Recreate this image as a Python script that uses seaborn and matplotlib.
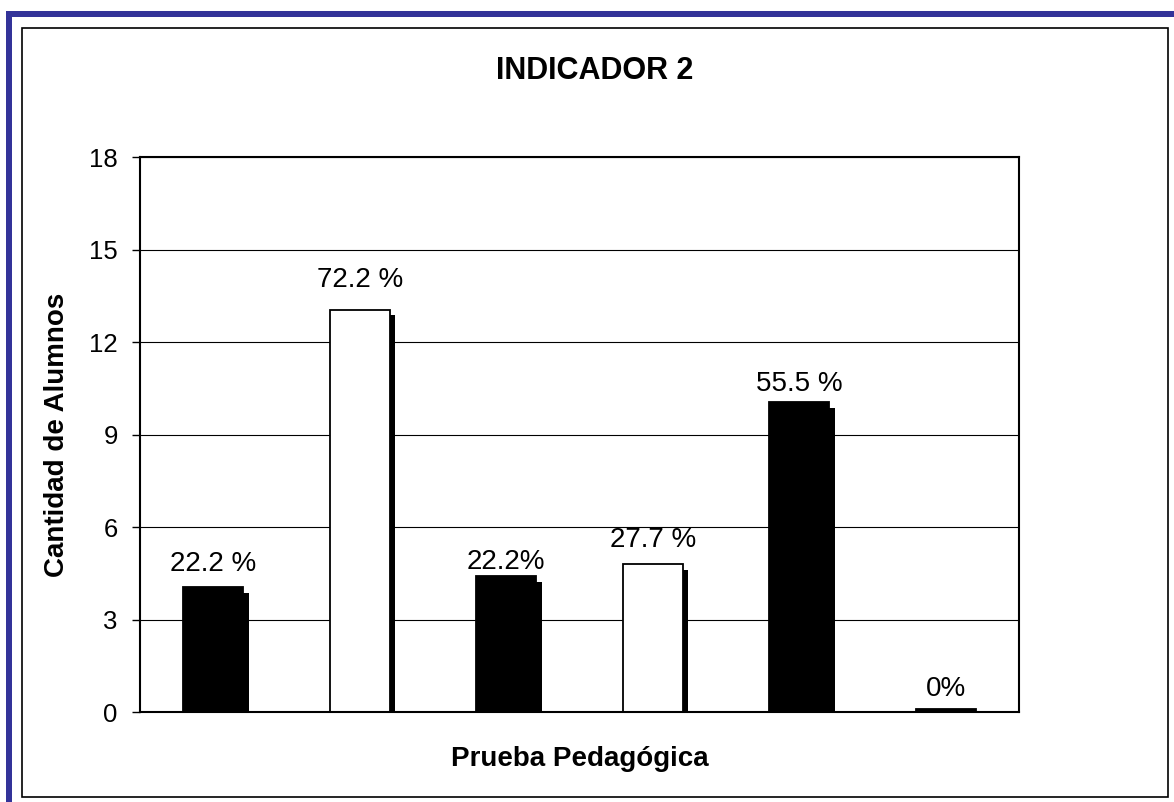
import matplotlib
matplotlib.use('Agg')
import matplotlib.pyplot as plt
import matplotlib.patheffects as pe
from matplotlib.patches import Rectangle
import seaborn as sns

# data
categories = ['1', '2', '3', '4', '5', '6']
alumnos = [4.05, 13.05, 4.4, 4.8, 10.05, 0.1]
pct_labels = ['22.2 %', '72.2 %', '22.2%', '27.7 %', '55.5 %', '0%']
bar_colors = ['black', 'white', 'black', 'white', 'black', 'black']
y_ticks = [0, 3, 6, 9, 12, 15, 18]

# label lift above each bar (points), matched to the picture
label_lift = [11.5, 16, 5, 12, 8, 9.5]

sns.set_theme(style='white')
plt.rcParams['font.family'] = ['Liberation Sans', 'DejaVu Sans']

fig = plt.figure(figsize=(11.74, 8.02), dpi=100)
ax = fig.add_axes([0.1193, 0.1122, 0.7487, 0.692])

sns.barplot(x=categories, y=alumnos, hue=categories, palette=bar_colors,
            legend=False, width=0.41, edgecolor='black', linewidth=1.3,
            saturation=1, ax=ax)

# drop shadow like the old spreadsheet chart
for p in ax.patches:
    p.set_path_effects([pe.SimplePatchShadow(offset=(4, -4), shadow_rgbFace='black', alpha=1.0),
                        pe.Normal()])

bars = sorted(ax.patches, key=lambda r: r.get_x())
for p, lbl, dy in zip(bars, pct_labels, label_lift):
    ax.annotate(lbl, (p.get_x() + p.get_width() / 2, p.get_height()),
                xytext=(0, dy), textcoords='offset points',
                ha='center', va='baseline', fontsize=20, color='black')

ax.set_ylim(0, 18)
ax.set_xlim(-0.5, 5.5)
ax.set_yticks(y_ticks)
ax.set_xticks([])
ax.tick_params(axis='y', which='major', direction='out', length=6, width=1,
               pad=10, labelsize=18.5, colors='black', left=True)
ax.yaxis.grid(True, color='black', linewidth=0.8)
ax.set_axisbelow(True)
for s in ax.spines.values():
    s.set_visible(True)
    s.set_color('black')
    s.set_linewidth(1.5)

ax.set_xlabel('Prueba Pedagógica', fontsize=20, fontweight='bold', color='black')
ax.xaxis.set_label_coords(0.5, -0.085)
ax.xaxis.label.set_verticalalignment('center')
ax.set_ylabel('Cantidad de Alumnos', fontsize=20, fontweight='bold', color='black')
ax.yaxis.set_label_coords(-0.094, 0.5)
ax.yaxis.label.set_verticalalignment('center')

fig.text(0.5064, 0.912, 'INDICADOR 2', fontsize=22, fontweight='bold',
         ha='center', va='center', color='black')

# outer frames
W, H = 1174, 802
fig.patches.append(Rectangle((22 / W, 1 - 797 / H), 1146 / W, 769 / H,
                             transform=fig.transFigure, fill=False,
                             edgecolor='black', linewidth=1.2))
fig.patches.append(Rectangle((6 / W, 0), 6 / W, 1 - 11 / H,
                             transform=fig.transFigure, facecolor='#333399',
                             edgecolor='none'))
fig.patches.append(Rectangle((6 / W, 1 - 17 / H), 1 - 6 / W, 6 / H,
                             transform=fig.transFigure, facecolor='#333399',
                             edgecolor='none'))

fig.savefig('out.png', dpi=100, facecolor='white')
